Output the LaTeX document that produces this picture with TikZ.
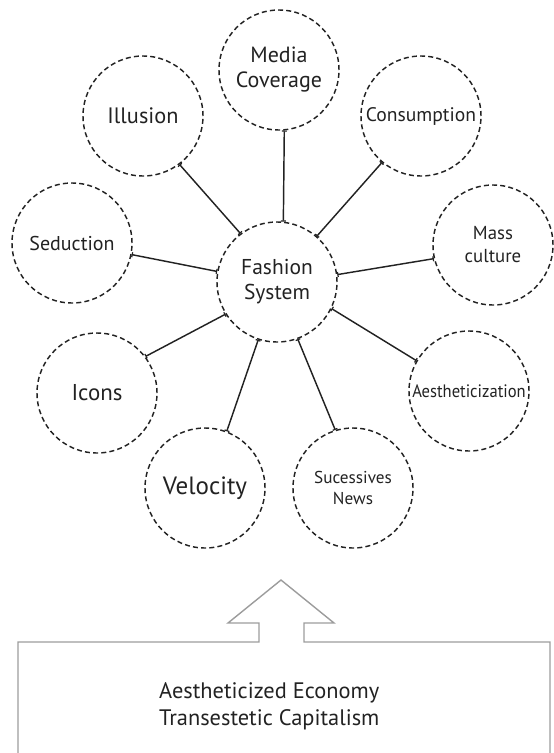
\documentclass[tikz,border=0pt]{standalone}
\usepackage{fontspec}
\setmainfont{PT Sans}
\usetikzlibrary{arrows.meta}
\definecolor{ink}{HTML}{222222}
\definecolor{frame}{HTML}{9C9C9C}
\newcommand{\fsz}[2]{\fontsize{#1}{#2}\selectfont}
\begin{document}
\begin{tikzpicture}[x=1pt,y=-1pt,
  bub/.style={circle,draw=ink,line width=1.45pt,dash pattern=on 5pt off 3.2pt,
    minimum size=120pt,inner sep=0pt,align=center,text=ink},
  link/.style={draw=ink,line width=1.45pt,
    {Bar[width=5pt,line width=1.2pt]}-{Bar[width=5pt,line width=1.2pt]}},
  frameline/.style={draw=frame,line width=1.4pt,line join=miter}
]
\useasboundingbox (0,0) rectangle (554,753);

% centre
\node[bub,font=\fsz{21.5}{25}] (fs) at (277,282) {Fashion\\System};

% satellites
\node[bub,font=\fsz{22}{25}] (media) at (279,70) {Media\\Coverage};
\node[bub,font=\fsz{22.3}{26}] (illu) at (143,116) {Illusion};
\node[bub,font=\fsz{19.6}{24}] (cons) at (421,116) {Consumption};
\node[bub,font=\fsz{18.8}{23}] (mass) at (493,245) {Mass\\culture};
\node[bub,font=\fsz{18}{22}] (aest) at (469,391) {\scalebox{0.92}[1]{Aestheticization}};
\node[bub,font=\fsz{20}{24}] (sed) at (72,243) {Seduction};
\node[bub,font=\fsz{22.9}{26}] (icon) at (97,393) {Icons};
\node[bub,font=\fsz{25}{28}] (velo) at (205,488) {Velocity};
\node[bub,font=\fsz{17.2}{21}] (news) at (353,488) {Sucessives\\News};

% connectors
\draw[link] (media.275) -- (fs.84);
\draw[link] (illu.-53) -- (fs.127);
\draw[link] (cons.230) -- (fs.49);
\draw[link] (mass.193) -- (fs.7);
\draw[link] (aest.150) -- (fs.-26);
\draw[link] (sed.-11) -- (fs.170);
\draw[link] (icon.37) -- (fs.212);
\draw[link] (velo.69) -- (fs.252);
\draw[link] (news.107) -- (fs.290);

% block arrow and frame
\draw[frameline] (18,754) -- (18,642) -- (259,642) -- (259,623) -- (228,623)
  -- (281,580) -- (334,623) -- (304,623) -- (304,642) -- (550,642) -- (550,754);
\node[anchor=west,align=left,text=ink,font=\fsz{22.4}{27},inner sep=0pt] (econ) at (159,706)
  {Aestheticized Economy\\Transestetic Capitalism};
\end{tikzpicture}
\end{document}
